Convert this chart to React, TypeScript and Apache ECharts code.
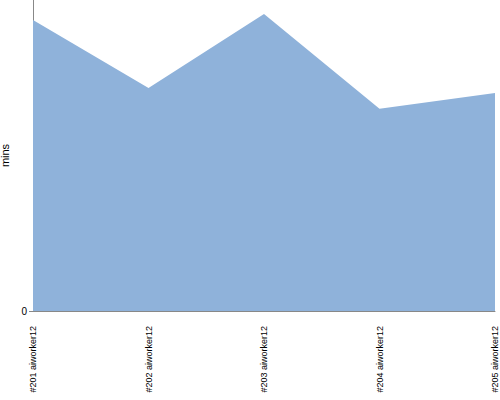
import React, { useEffect, useRef } from "react";
import * as echarts from "echarts";

const categories = ["#201 aiworker12", "#202 aiworker12", "#203 aiworker12", "#204 aiworker12", "#205 aiworker12"];
const minutes = [93.6, 71.7, 95.5, 65.0, 70.1];
const yMax = 100;

export default function App() {
  const ref = useRef<HTMLDivElement>(null);
  useEffect(() => {
    const chart = echarts.init(ref.current!, undefined, { renderer: "svg" });
    chart.setOption({
      animation: false,
      grid: { left: 33, right: 5, top: 0, bottom: 89, containLabel: false, outerBoundsMode: "none" },
      xAxis: {
        type: "category",
        data: categories,
        boundaryGap: false,
        axisLine: { lineStyle: { color: "#888888" } },
        axisTick: { show: false },
        axisLabel: {
          rotate: 90,
          interval: 0,
          color: "#000",
          fontSize: 9,
          fontFamily: "Liberation Sans Narrow, Liberation Sans",
          margin: 15,
        },
      },
      yAxis: {
        type: "value",
        min: 0,
        max: yMax,
        interval: yMax,
        name: "mins",
        nameLocation: "middle",
        nameRotate: 90,
        nameGap: 17,
        nameTextStyle: { color: "#000", fontSize: 11, fontFamily: "Liberation Sans" },
        splitLine: { show: false },
        axisLine: { show: true, lineStyle: { color: "#888888" } },
        axisTick: { show: true, length: 4, customValues: [0], lineStyle: { color: "#888888" } },
        axisLabel: {
          color: "#000",
          fontSize: 10,
          fontFamily: "Liberation Sans",
          margin: 6,
          customValues: [0],
          formatter: (v: number) => (v === 0 ? "0" : ""),
        },
      },
      series: [
        {
          type: "line",
          data: minutes,
          showSymbol: false,
          lineStyle: { width: 0 },
          areaStyle: { color: "#8fb2da", opacity: 1 },
        },
      ],
    });
    return () => chart.dispose();
  }, []);
  return <div ref={ref} style={{ width: 500, height: 400, position: "absolute", left: 0, top: 0 }} />;
}
